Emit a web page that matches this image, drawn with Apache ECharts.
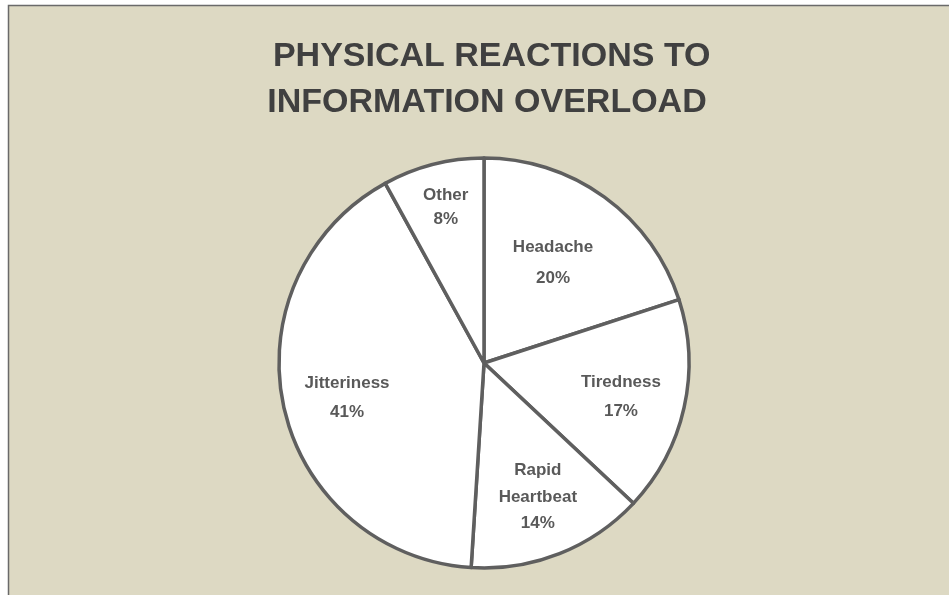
<!DOCTYPE html>
<html>
<head>
<meta charset="utf-8">
<script src="https://cdn.jsdelivr.net/npm/echarts@6/dist/echarts.min.js"></script>
<style>
html,body{margin:0;padding:0;background:#ffffff;}
#chart{width:949px;height:595px;}
</style>
</head>
<body>
<div id="chart"></div>
<script>
// Data
const categories = ['Headache', 'Tiredness', 'Rapid\nHeartbeat', 'Jitteriness', 'Other'];
const values = [20, 17, 14, 41, 8];
const titleText = ' PHYSICAL REACTIONS TO\nINFORMATION OVERLOAD';

// label styling tweaks (offsets from the default inside position)
const labelOffsets = [[7, -15], [34, 11], [15, 36], [-34, 12], [-12, -54]];
const labelLineHeights = [31, 29.5, 26.5, 29, 24];

const chart = echarts.init(document.getElementById('chart'), null, {renderer: 'canvas'});
const data = categories.map((c, i) => ({
  name: c,
  value: values[i],
  label: {offset: labelOffsets[i], lineHeight: labelLineHeights[i]}
}));

chart.setOption({
  animation: false,
  backgroundColor: 'transparent',
  graphic: [{
    type: 'rect',
    z: -10,
    silent: true,
    shape: {x: 8.5, y: 5.5, width: 1200, height: 1200},
    style: {fill: '#DDD9C3', stroke: '#6a6a6a', lineWidth: 1.5}
  }],
  title: {
    text: titleText,
    left: 482,
    top: 29,
    textAlign: 'center',
    textStyle: {
      fontFamily: 'Liberation Sans, Arial, sans-serif',
      fontWeight: 'bold',
      fontSize: 34,
      lineHeight: 46,
      color: '#404040'
    }
  },
  series: [{
    type: 'pie',
    center: [484, 363],
    radius: 205,
    startAngle: 90,
    clockwise: true,
    silent: true,
    data: data,
    itemStyle: {
      color: '#ffffff',
      borderColor: '#5f5f5f',
      borderWidth: 3.5
    },
    label: {
      show: true,
      position: 'inside',
      formatter: '{b}\n{d}%',
      fontFamily: 'Liberation Sans, Arial, sans-serif',
      fontWeight: 'bold',
      fontSize: 17,
      color: '#595959',
      align: 'center'
    },
    labelLine: {show: false}
  }]
});
</script>
</body>
</html>
